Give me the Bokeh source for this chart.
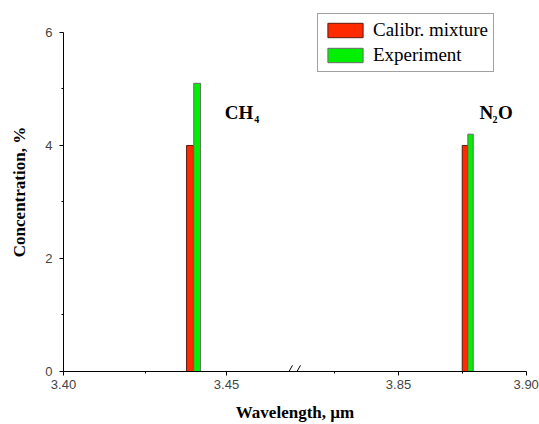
import numpy as np
from bokeh.plotting import figure
from bokeh.models import Range1d, FixedTicker, Label
from bokeh.embed import file_html
from bokeh.resources import INLINE

# ---- data ----
species = ["CH4", "N2O"]
calib_wavelength = [3.4388, 3.8760]   # um, bar centres (Calibr. mixture)
exp_wavelength = [3.4410, 3.8782]     # um, bar centres (Experiment)
calib_conc = [4.0, 4.0]               # %
exp_conc = [5.1, 4.2]                 # %
bar_width_um = 0.0021

x_major_ticks = [3.40, 3.45, 3.85, 3.90]
x_major_labels = ["3.40", "3.45", "3.85", "3.90"]
x_minor_ticks = [3.425, 3.825, 3.875]
y_major_ticks = [0, 2, 4, 6]
y_minor_ticks = [1, 3, 5]

# ---- broken x axis: two linear segments on one screen axis ----
SPLIT = 3.6
LEFT_START, LEFT_SCALE = 3.40, 3260.0      # screen units per um
RIGHT_ANCHOR, RIGHT_POS, RIGHT_SCALE = 3.85, 335.0, 2554.0
BREAK_POS = 232.0


def xmap(w):
    w = np.asarray(w, dtype=float)
    return np.where(w < SPLIT, (w - LEFT_START) * LEFT_SCALE,
                    RIGHT_POS + (w - RIGHT_ANCHOR) * RIGHT_SCALE)


p = figure(width=539, height=424, output_backend="svg", toolbar_location=None,
           x_range=Range1d(0, 463), y_range=Range1d(0, 6.353),
           min_border_left=63, min_border_right=13, min_border_top=12,
           min_border_bottom=52)
p.outline_line_color = None
p.xgrid.visible = False
p.ygrid.visible = False

half = bar_width_um / 2
cw = np.array(calib_wavelength)
ew = np.array(exp_wavelength)
p.quad(left=xmap(cw - half), right=xmap(cw + half), bottom=0, top=calib_conc,
       fill_color="#FF2A00", line_color="#5a1a10", line_width=1,
       legend_label="Calibr. mixture")
p.quad(left=xmap(ew - half), right=xmap(ew + half), bottom=0, top=exp_conc,
       fill_color="#00F000", line_color="#6a6a6a", line_width=1,
       legend_label="Experiment")

# axes
tick_pos = [round(float(v), 2) for v in xmap(x_major_ticks)]
minor_pos = [round(float(v), 2) for v in xmap(x_minor_ticks)]
p.xaxis.ticker = FixedTicker(ticks=tick_pos, minor_ticks=minor_pos)
p.xaxis.major_label_overrides = {t: l for t, l in zip(tick_pos, x_major_labels)}
p.yaxis.ticker = FixedTicker(ticks=y_major_ticks, minor_ticks=y_minor_ticks)
p.yaxis.bounds = (0, 6)

for ax in (p.xaxis[0], p.yaxis[0]):
    ax.axis_line_color = "black"
    ax.major_tick_line_color = "black"
    ax.minor_tick_line_color = "black"
    ax.major_tick_out = 4
    ax.major_tick_in = 0
    ax.minor_tick_out = 2
    ax.minor_tick_in = 0
    ax.major_label_text_font = "Liberation Sans"
    ax.major_label_text_font_size = "13px"
    ax.major_label_text_color = "#444444"
    ax.axis_label_text_font = "Liberation Serif"
    ax.axis_label_text_font_style = "bold"
    ax.axis_label_text_font_size = "17px"
    ax.axis_label_text_color = "black"

p.xaxis.axis_label = "Wavelength, µm"
p.xaxis.major_label_standoff = 4
p.xaxis.axis_label_standoff = 11
p.yaxis.axis_label = "Concentration, %"
p.yaxis.major_label_standoff = 7
p.yaxis.axis_label_standoff = 13

# axis break marks
dy = 0.11
p.segment(x0=[BREAK_POS - 10, BREAK_POS - 2], y0=[-dy, -dy],
          x1=[BREAK_POS - 3, BREAK_POS + 5], y1=[dy, dy],
          line_color="black", line_width=1)

# species labels
lab_y = 4.59
font = "Liberation Serif"
ch_x = float(xmap(exp_wavelength[0]))
n2o_x = float(xmap(exp_wavelength[1]))
common = dict(text_font=font, text_font_style="bold", text_baseline="alphabetic",
              text_color="black")
p.add_layout(Label(x=ch_x, y=lab_y, x_offset=27.5, text="CH",
                   text_font_size="19px", **common))
p.add_layout(Label(x=ch_x, y=lab_y, x_offset=57, y_offset=-7, text="4",
                   text_font_size="10px", **common))
p.add_layout(Label(x=n2o_x, y=lab_y, x_offset=9, text="N",
                   text_font_size="19px", **common))
p.add_layout(Label(x=n2o_x, y=lab_y, x_offset=22, y_offset=-7, text="2",
                   text_font_size="10px", **common))
p.add_layout(Label(x=n2o_x, y=lab_y, x_offset=27.5, text="O",
                   text_font_size="19px", **common))

# legend
lg = p.legend[0]
lg.location = (254, 299)
lg.margin = 0
lg.padding = 5
lg.spacing = 3
lg.glyph_width = 44
lg.glyph_height = 18
lg.label_standoff = 6
lg.label_text_font = font
lg.label_text_font_size = "19px"
lg.label_text_color = "black"
lg.border_line_color = "#444444"
lg.border_line_width = 1
lg.background_fill_alpha = 1.0

open("out.html", "w").write(file_html(p, INLINE))
